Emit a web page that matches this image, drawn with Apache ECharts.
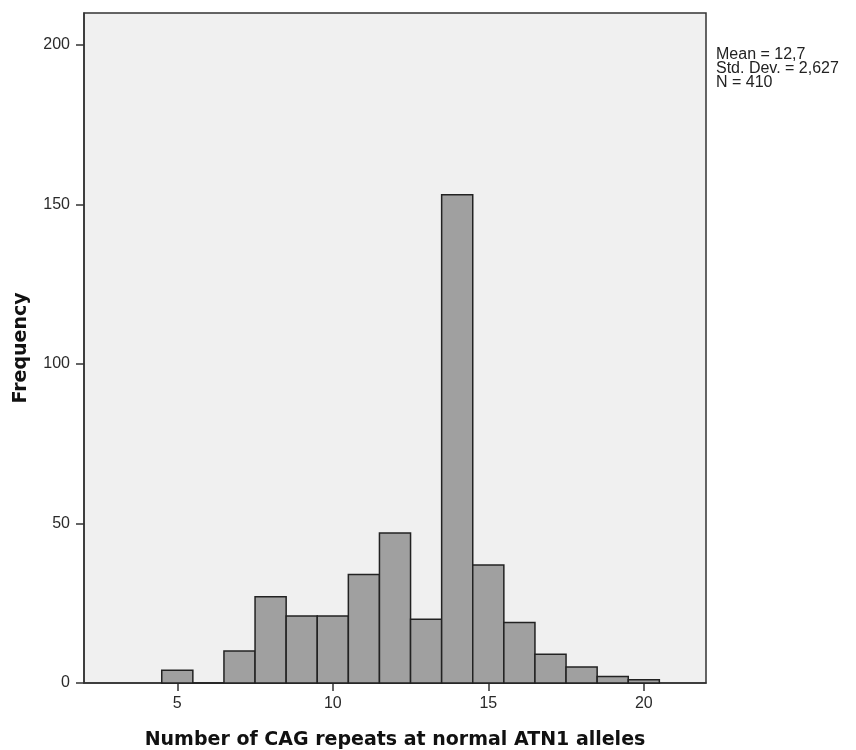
<!DOCTYPE html>
<html>
<head>
<meta charset="utf-8">
<script src="https://cdn.jsdelivr.net/npm/echarts@6/dist/echarts.min.js"></script>
<style>
  html, body { margin: 0; padding: 0; background: #fff; }
</style>
</head>
<body>
<div id="Histogram" style="width: 856px; height: 750px"></div>
<script>
// CAG repeat counts (bin centres) and frequencies
const repeats = [5, 6, 7, 8, 9, 10, 11, 12, 13, 14, 15, 16, 17, 18, 19, 20];
const frequency = [4, 0, 10, 27, 21, 21, 34, 47, 20, 153, 37, 19, 9, 5, 2, 1];
const xTicks = [5, 10, 15, 20];
const yTicks = [0, 50, 100, 150, 200];
const statsLines = ["Mean = 12,7", "Std. Dev. = 2,627", "N = 410"];

const chart = echarts.init(document.getElementById("Histogram"));

const bins = repeats.map((r, i) => [r - 0.5, r + 0.5, frequency[i]]);

const option = {
  animation: false,
  textStyle: { fontFamily: "Liberation Sans" },
  grid: {
    left: 84,
    top: 13,
    right: 150,
    bottom: 67,
    outerBoundsMode: "none",
    containLabel: false,
    show: true,
    backgroundColor: "#f0f0f0",
    borderColor: "#333",
    borderWidth: 1.5,
  },
  xAxis: {
    type: "value",
    min: 2,
    max: 22,
    name: "Number of CAG repeats at normal ATN1 alleles",
    nameLocation: "middle",
    nameGap: 48,
    nameTextStyle: {
      fontFamily: "DejaVu Sans",
      fontWeight: "bold",
      fontSize: 19,
      color: "#111",
    },
    splitLine: { show: false },
    axisLine: { show: true, lineStyle: { color: "#333", width: 1.5 } },
    axisTick: { show: true, length: 8, customValues: xTicks, lineStyle: { color: "#333", width: 1.5 } },
    axisLabel: { customValues: xTicks, color: "#2a2a2a", fontSize: 16, margin: 13 },
  },
  yAxis: {
    type: "value",
    min: 0,
    max: 210,
    name: "Frequency",
    nameLocation: "middle",
    nameGap: 53,
    nameTextStyle: {
      fontFamily: "DejaVu Sans",
      fontWeight: "bold",
      fontSize: 19,
      color: "#111",
    },
    splitLine: { show: false },
    axisLine: { show: true, lineStyle: { color: "#333", width: 1.5 } },
    axisTick: { show: true, length: 8, customValues: yTicks, lineStyle: { color: "#333", width: 1.5 } },
    axisLabel: { customValues: yTicks, color: "#2a2a2a", fontSize: 16, margin: 14 },
  },
  graphic: [
    {
      type: "text",
      left: 716,
      top: 47,
      style: {
        text: statsLines.join("\n"),
        fontFamily: "Liberation Sans",
        fontSize: 16,
        lineHeight: 14,
        fill: "#222",
      },
    },
  ],
  series: [
    {
      type: "custom",
      data: bins,
      encode: { x: [0, 1], y: 2 },
      renderItem: function (params, api) {
        const p0 = api.coord([api.value(0), api.value(2)]);
        const p1 = api.coord([api.value(1), 0]);
        return {
          type: "rect",
          shape: { x: p0[0], y: p0[1], width: p1[0] - p0[0], height: p1[1] - p0[1] },
          style: { fill: "#a0a0a0", stroke: "#222", lineWidth: 1.5 },
        };
      },
    },
  ],
};

chart.setOption(option, true);
window.onresize = () => {
  chart.resize();
};
</script>
</body>
</html>
